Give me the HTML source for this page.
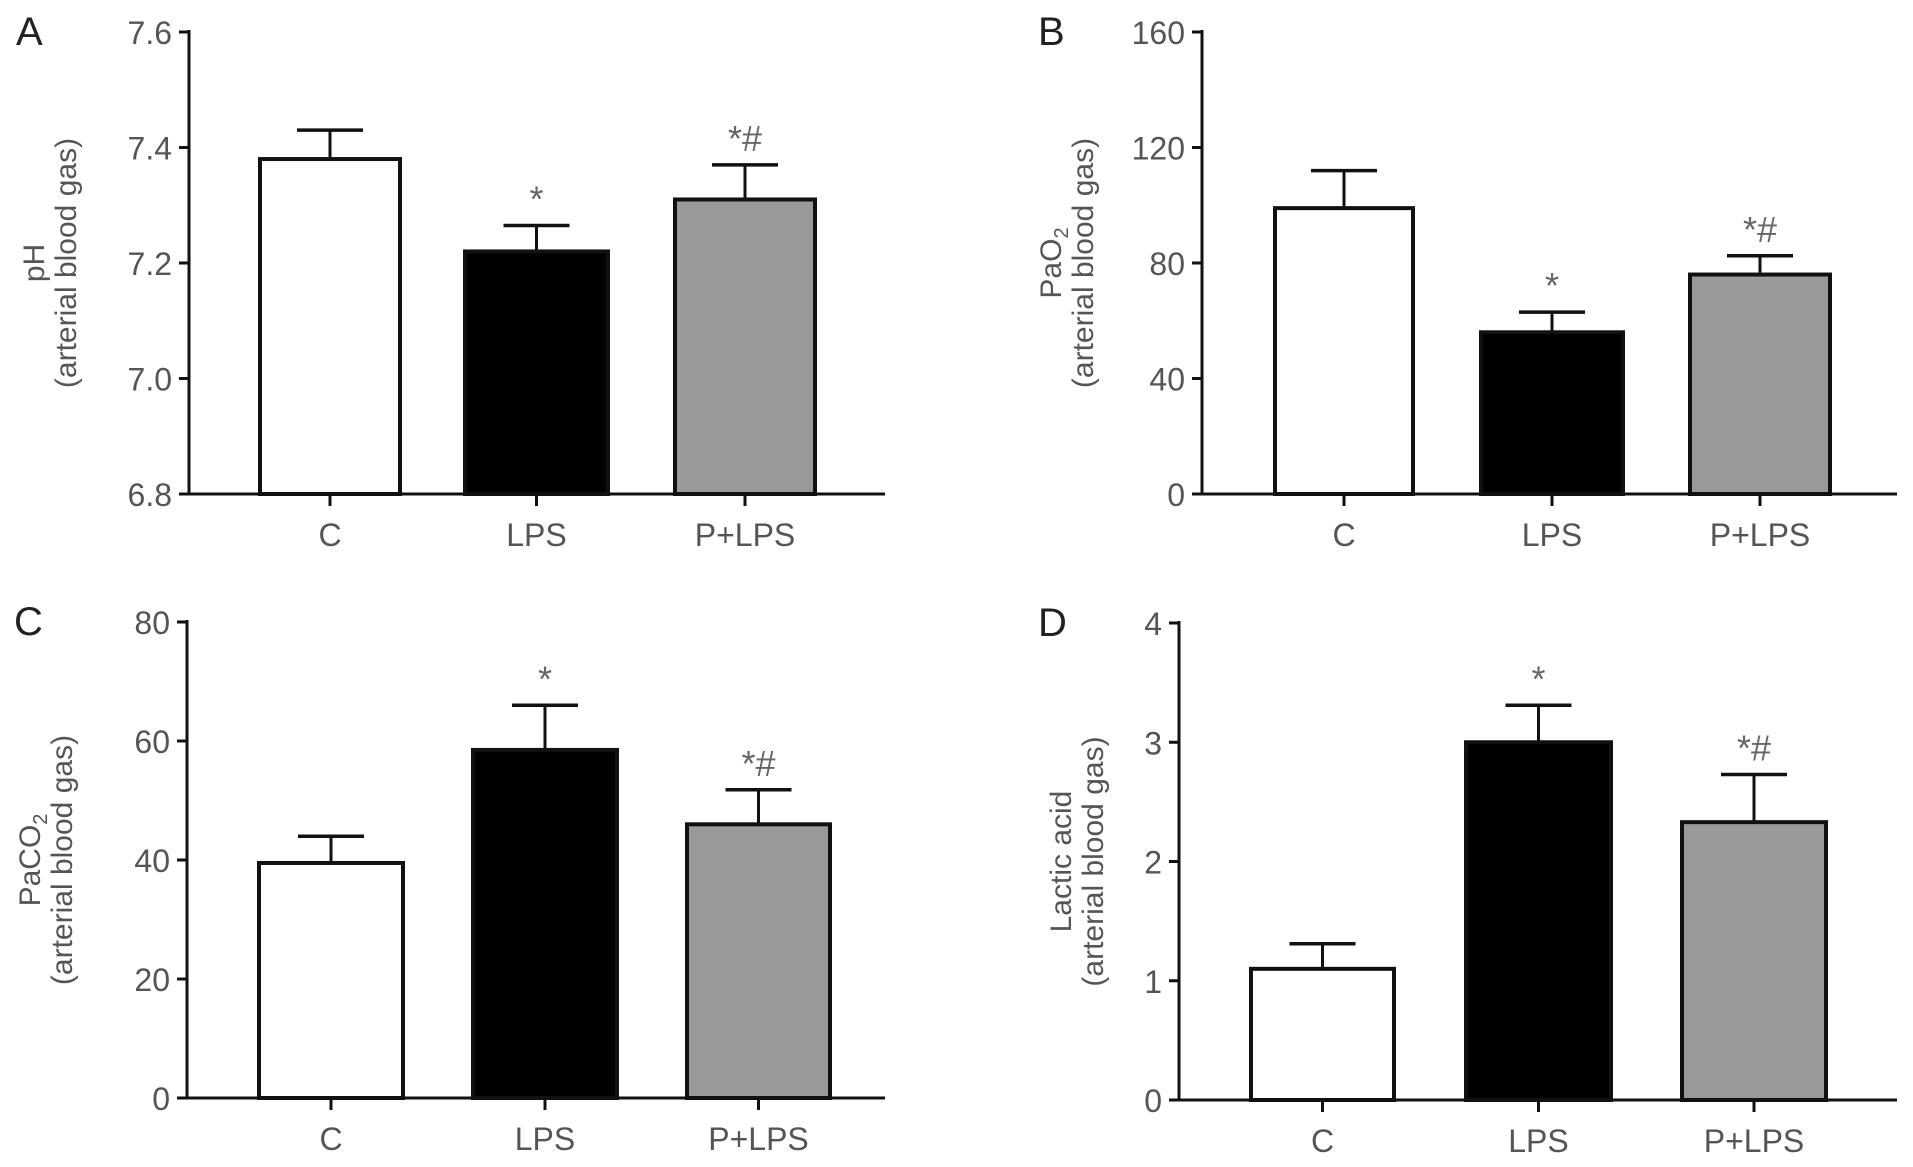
<!DOCTYPE html>
<html><head><meta charset="utf-8"><style>
html,body{margin:0;padding:0;background:#fff}
svg{display:block}
text{font-family:"Liberation Sans",sans-serif}
</style></head><body>
<svg id="fig" width="1913" height="1167" viewBox="0 0 1913 1167" xmlns="http://www.w3.org/2000/svg"></svg>
<script>
const categories = ["C", "LPS", "P+LPS"];
const phValues = [7.38, 7.22, 7.31];
const phErrors = [7.43, 7.265, 7.37];
const phTicks = ["6.8", "7.0", "7.2", "7.4", "7.6"];
const pao2Values = [99, 56, 76];
const pao2Errors = [112, 63, 82.5];
const pao2Ticks = ["0", "40", "80", "120", "160"];
const paco2Values = [39.5, 58.5, 46];
const paco2Errors = [44, 66, 51.8];
const paco2Ticks = ["0", "20", "40", "60", "80"];
const lacticValues = [1.1, 3.0, 2.33];
const lacticErrors = [1.31, 3.31, 2.73];
const lacticTicks = ["0", "1", "2", "3", "4"];
const annotations = ["", "*", "*#"];

const NS = "http://www.w3.org/2000/svg";
const svg = document.getElementById("fig");
function mk(tag, attrs, parent) {
  const e = document.createElementNS(NS, tag);
  for (const k in attrs) e.setAttribute(k, attrs[k]);
  (parent || svg).appendChild(e);
  return e;
}
const fills = ["#ffffff", "#000000", "#999999"];

function panel(cfg) {
  const g = mk("g", {});
  
  
  const ticks = cfg.ticks.map(Number);
  const ymin = ticks[0], ymax = ticks[ticks.length - 1];
  const y = v => cfg.base - (v - ymin) / (ymax - ymin) * (cfg.base - cfg.top);
  const L = mk("text", {x: cfg.letterX, y: cfg.top + 13, "font-size": 40, fill: "#222"}, g);
  L.textContent = cfg.letter;
  
  
  cfg.ticks.forEach(t => {
    const yy = y(Number(t));
    const tl = mk("line", {x1: cfg.axisX - 10, x2: cfg.axisX, y1: yy, y2: yy, stroke: "#111", "stroke-width": 3}, g);
    
    
    const tx = mk("text", {x: cfg.axisX - 17, y: yy + 12, "font-size": 32, fill: "#555", "text-anchor": "end"}, g);
    tx.textContent = t;
    
    
  });
  cfg.bars.forEach((b, i) => {
    const cx = (b[0] + b[1]) / 2;
    const yv = y(cfg.values[i]), ye = y(cfg.errors[i]);
    const eb = mk("line", {x1: cx, x2: cx, y1: yv, y2: ye, stroke: "#111", "stroke-width": 3}, g);
    
    
    const ec = mk("line", {x1: cx - 33, x2: cx + 33, y1: ye, y2: ye, stroke: "#111", "stroke-width": 3.5}, g);
    
    
    const r = mk("rect", {x: b[0], y: yv, width: b[1] - b[0], height: cfg.base - yv, fill: fills[i], stroke: "#111", "stroke-width": 4}, g);
    
    
    const xt = mk("line", {x1: cx, x2: cx, y1: cfg.base, y2: cfg.base + 12, stroke: "#111", "stroke-width": 3}, g);
    
    
    const xl = mk("text", {x: cx, y: cfg.base + 52, "font-size": 32, fill: "#555", "text-anchor": "middle"}, g);
    xl.textContent = categories[i];
    
    
    if (annotations[i]) {
      const an = mk("text", {x: cx, y: ye - 14, "font-size": 36, fill: "#666", "text-anchor": "middle"}, g);
      an.textContent = annotations[i];
      
      
    }
  });
  const ya = mk("line", {x1: cfg.axisX, x2: cfg.axisX, y1: cfg.top - 2, y2: cfg.base, stroke: "#111", "stroke-width": 3}, g);
  
  
  const xa = mk("line", {x1: cfg.axisX, x2: cfg.axisEnd, y1: cfg.base, y2: cfg.base, stroke: "#111", "stroke-width": 3}, g);
  
  
  const mid = (cfg.top + cfg.base) / 2;
  const t1 = mk("text", {transform: `translate(${cfg.titleX},${mid}) rotate(-90)`, "font-size": 30, fill: "#555", "text-anchor": "middle"}, g);
  t1.innerHTML = cfg.title;
  
  
  const t2 = mk("text", {transform: `translate(${cfg.titleX + 32},${mid}) rotate(-90)`, "font-size": 30, fill: "#555", "text-anchor": "middle"}, g);
  t2.textContent = "(arterial blood gas)";
  
  
}

panel({name: "panel-a-ph", letter: "A", letterX: 16, axisX: 189, axisEnd: 885, top: 32, base: 494,
  ticks: phTicks, values: phValues, errors: phErrors, bars: [[260, 400], [465, 608], [675, 815]],
  titleX: 44, title: "pH"});
panel({name: "panel-b-pao2", letter: "B", letterX: 1038, axisX: 1202, axisEnd: 1897, top: 32, base: 494,
  ticks: pao2Ticks, values: pao2Values, errors: pao2Errors, bars: [[1275, 1413], [1481, 1623], [1690, 1830]],
  titleX: 1061, title: 'PaO<tspan font-size="20" dy="7">2</tspan>'});
panel({name: "panel-c-paco2", letter: "C", letterX: 14, axisX: 187, axisEnd: 885, top: 622, base: 1098,
  ticks: paco2Ticks, values: paco2Values, errors: paco2Errors, bars: [[259, 403], [473, 617], [687, 830]],
  titleX: 40, title: 'PaCO<tspan font-size="20" dy="7">2</tspan>'});
panel({name: "panel-d-lactic", letter: "D", letterX: 1038, axisX: 1179, axisEnd: 1897, top: 623, base: 1100,
  ticks: lacticTicks, values: lacticValues, errors: lacticErrors, bars: [[1251, 1394], [1466, 1611], [1682, 1826]],
  titleX: 1071, title: "Lactic acid"});
</script>
</body></html>
